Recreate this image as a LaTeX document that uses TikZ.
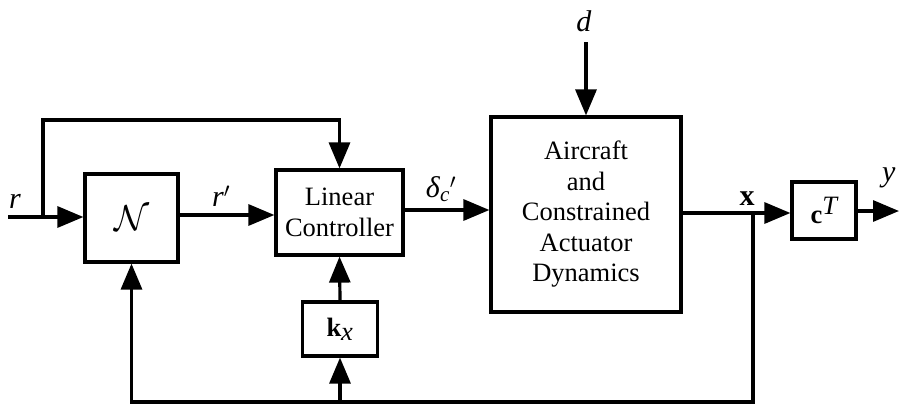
\documentclass[tikz,border=0pt]{standalone}
\usepackage{fontspec}
\usepackage{graphicx}
\setmainfont{Liberation Serif}
\usetikzlibrary{arrows.meta}
\begin{document}
\begin{tikzpicture}[x=1pt,y=-1pt,
  line width=3.2pt,
  every node/.style={font=\fontsize{26.5}{30.5}\selectfont},
  blk/.style={draw,line width=3.2pt,inner sep=0pt,align=center},
  arr/.style={-{Triangle[length=26pt,width=21pt]}},
  lbl/.style={inner sep=0pt,font=\fontsize{30}{34}\selectfont}]
\useasboundingbox (0,0) rectangle (899,405);
% blocks
\node[blk,minimum width=93pt,minimum height=88pt] (N) at (131.5,218) {\scalebox{1.45}{$\mathcal{N}$}};
\node[blk,minimum width=127pt,minimum height=85pt] (LC) at (339.5,212.5) {Linear\\Controller};
\node[blk,minimum width=190pt,minimum height=195pt] (AC) at (586,214.5) {Aircraft\\and\\Constrained\\Actuator\\Dynamics};
\node[blk,minimum width=75pt,minimum height=54pt] (K) at (340,329) {\textbf{k}$_{\textit{x}}$};
\node[blk,minimum width=64pt,minimum height=57pt] (C) at (824,210.5) {\textbf{c}$^{\textit{T}}$};
% coordinates
\coordinate (rin) at (8,217);
\coordinate (rb) at (43,217);
\coordinate (dtop) at (586,42);
\coordinate (xb) at (753,213);
\coordinate (yout) at (899,211);
\coordinate (bot) at (753,402);
\coordinate (kb) at (340,402);
% labels
\node[lbl] at (15,201) {\textit{r}};
\node[lbl] at (221,196) {\textit{r}$'$};
\node[lbl] at (441,189) {\textit{δ}\textsubscript{\textit{c}}$'$};
\node[lbl] at (584,21) {\textit{d}};
\node[lbl] at (747,199) {\textbf{x}};
\node[lbl,anchor=east] at (897,178) {\textit{y}};
% connectors
\draw[arr] (rin) -- (N.west |- rin);
\draw[arr] (rb) -- (43,120) -| (LC.north);
\draw[arr] (N.east |- 0,215) -- (LC.west |- 0,215);
\draw[arr] (LC.east |- 0,210) -- (AC.west |- 0,210);
\draw[arr] (dtop) -- (AC.north);
\draw[arr] (AC.east |- xb) -- (C.west |- xb);
\draw[arr] (C.east |- yout) -- (yout);
\draw[arr] (xb) -- (bot) -| (N.south);
\draw[arr] (kb) -- (K.south);
\draw[arr] (K.north) -- (LC.south);
\end{tikzpicture}
\end{document}
